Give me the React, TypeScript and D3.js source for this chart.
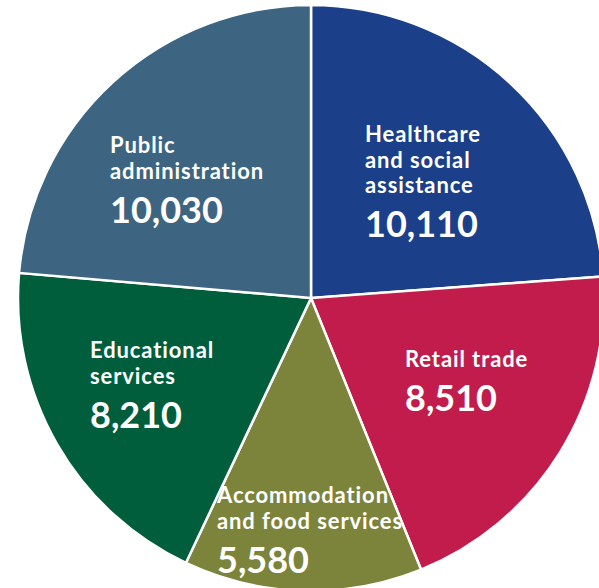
import React from "react";
import * as d3 from "d3";

const categories = [
  "Healthcare and social assistance",
  "Retail trade",
  "Accommodation and food services",
  "Educational services",
  "Public administration",
];
const values = [10110, 8510, 5580, 8210, 10030];
const colors = ["#1b3f88", "#c11c4b", "#7c843b", "#005e3d", "#3d6480"];
const labelLines = [
  ["Healthcare", "and social", "assistance"],
  ["Retail trade"],
  ["Accommodation", "and food services"],
  ["Educational", "services"],
  ["Public", "administration"],
];
// top-left anchor of each label block
const labelPos = [
  [365, 125],
  [405, 350],
  [217, 486],
  [90, 341],
  [110, 136],
];

const W = 599;
const H = 588;
const cx = 311;
const cy = 298;
const radius = 293;
const lineH = 25.5;

export default function App() {
  const pie = d3
    .pie<number>()
    .sort(null)
    .value((d) => d)(values);
  const arc = d3.arc<d3.PieArcDatum<number>>().innerRadius(0).outerRadius(radius);
  const fmt = d3.format(",");

  return (
    <svg
      width={W}
      height={H}
      style={{ position: "absolute", left: 0, top: 0, fontFamily: "Lato, sans-serif" }}
    >
      <g transform={`translate(${cx},${cy})`}>
        {pie.map((p, i) => (
          <path key={i} d={arc(p) || ""} fill={colors[i]} stroke="#fff" strokeWidth={2.5} />
        ))}
      </g>
      {labelLines.map((lines, i) => {
        const [x, y] = labelPos[i];
        return (
          <g key={i} fill="#fff" fontWeight={700}>
            {lines.map((t, j) => (
              <text key={j} x={x} y={y + 17 + j * lineH} fontSize={22} letterSpacing={0.9}>
                {t}
              </text>
            ))}
            <text x={x} y={y + 17 + (lines.length - 1) * lineH + 44} fontSize={36}>
              {fmt(values[i])}
            </text>
          </g>
        );
      })}
    </svg>
  );
}
